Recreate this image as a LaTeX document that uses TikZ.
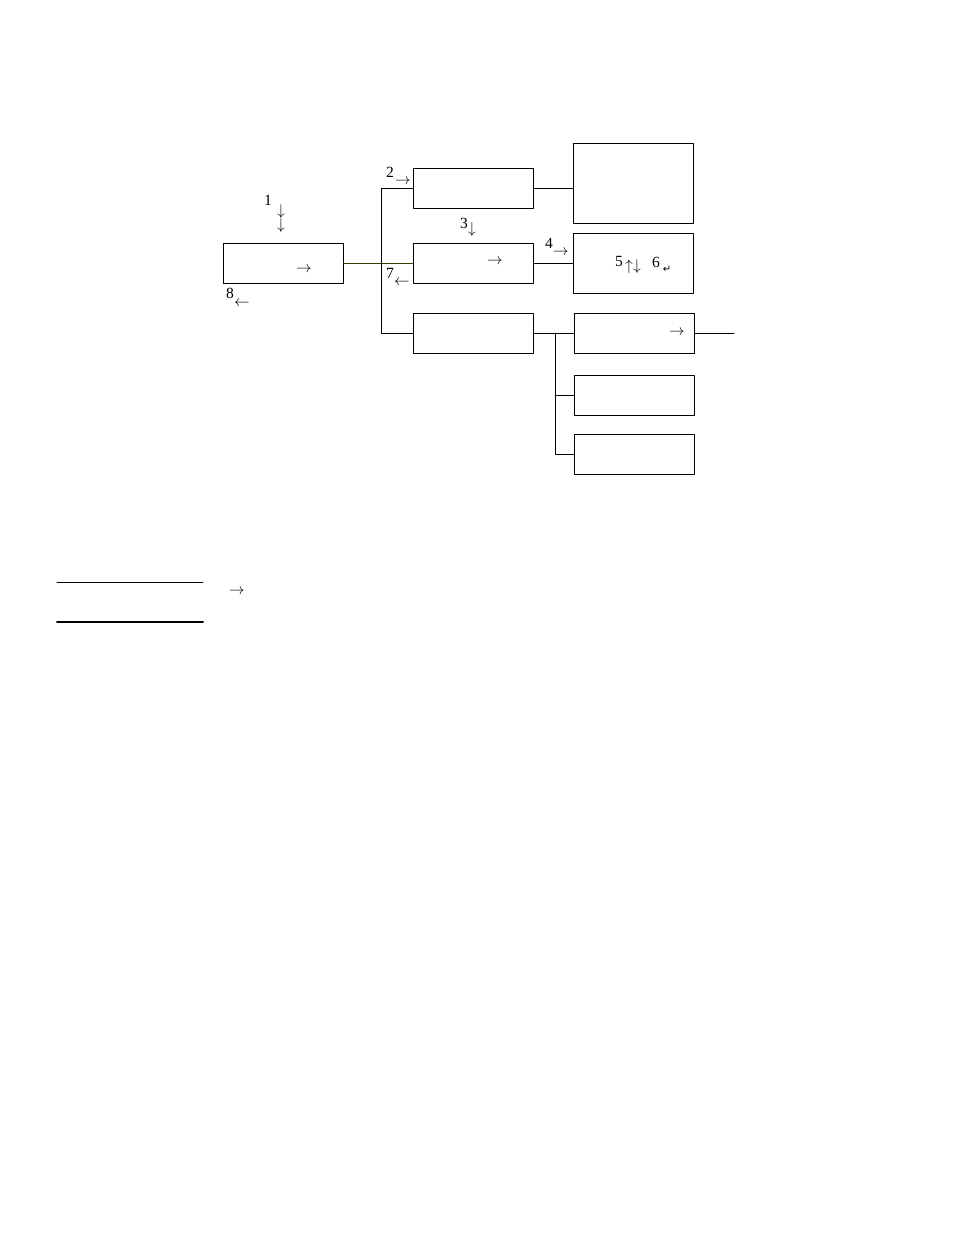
\RequirePackage{fix-cm}
\documentclass[tikz,border=0pt]{standalone}
\usepackage{amsmath,amssymb}
\usepackage{fontspec}
\setmainfont{Liberation Serif}
\newfontfamily\arrowfont{DejaVu Sans}
\usepackage{xcolor}
\definecolor{darkolive}{RGB}{60,58,0}

\begin{document}
\begin{tikzpicture}[line cap=round,line join=round,x=1bp,y=-1bp,
  font=\fontsize{15.6}{18}\selectfont,
  box/.style={draw,line width=1bp,minimum width=120bp,minimum height=40bp,inner sep=0pt},
  wire/.style={line width=1bp},
  lab/.style={inner sep=0pt}]
			\useasboundingbox (0,0) rectangle (954,1235);
			% boxes
			\node[box] (src) at (283,263) {};
			\node[box] (top) at (473,188) {};
			\node[box] (mid) at (473,263) {};
			\node[box] (low) at (473,333) {};
			\node[box,minimum height=80bp] (big) at (633,183) {};
			\node[box,minimum height=60bp] (key) at (633,263) {};
			\node[box] (outa) at (634,333) {};
			\node[box] (outb) at (634,395) {};
			\node[box] (outc) at (634,454) {};
			% wires
			\coordinate (bus) at (381,188);
			\coordinate (fork) at (555,333);
			\coordinate (tail) at (734,333);
			\draw [wire,darkolive] (src.east) -- (mid.west);
			\draw [wire] (top.west) -- (bus) |- (low.west);
			\draw [wire] (top.east) -- (top.east -| big.west);
			\draw [wire] (mid.east) -- (key.west);
			\draw [wire] (low.east) -- (outa.west);
			\draw [wire] (fork) |- (outc.west);
			\draw [wire] (fork |- outb.west) -- (outb.west);
			\draw [wire] (outa.east) -- (tail);
			% labels
			\node[lab] (n1) at (268,200) {1};
			\node[lab] (d1) at (281,212) {$\downarrow$};
			\node[lab] (d1b) at (281,226) {$\downarrow$};
			\node[lab] (n2) at (390,172) {2};
			\node[lab] (r2) at (403,182) {$\rightarrow$};
			\node[lab] (n3) at (464,223) {3};
			\node[lab] (d3) at (472,230) {$\downarrow$};
			\node[lab] (rm) at (495,262) {$\rightarrow$};
			\node[lab] (rs) at (304,270) {$\rightarrow$};
			\node[lab] (n7) at (390,273) {7};
			\node[lab] (l7) at (402,283) {$\leftarrow$};
			\node[lab] (n8) at (230,293) {8};
			\node[lab] (l8) at (242,304) {$\leftarrow$};
			\node[lab] (n4) at (549,243) {4};
			\node[lab] (r4) at (561,253) {$\rightarrow$};
			\node[lab] (n5) at (619,261) {5};
			\node[lab] (ud) at (633,267) {$\uparrow\downarrow$};
			\node[lab] (n6) at (656,262) {6};
			\node[lab] (cr) at (667,269) {\arrowfont\fontsize{10}{11}\selectfont ↵};
			\node[lab] (ra) at (677,333) {$\rightarrow$};
			% bottom rules
			\coordinate (ru1) at (57,582);
			\coordinate (ru2) at (203,582);
			\coordinate (ru3) at (57,622);
			\coordinate (ru4) at (203,622);
			\draw [line width=1bp] (ru1) -- (ru2);
			\draw [line width=2bp] (ru3) -- (ru4);
			\node[lab] (rb) at (237,592) {$\rightarrow$};
			\end{tikzpicture}
\end{document}
